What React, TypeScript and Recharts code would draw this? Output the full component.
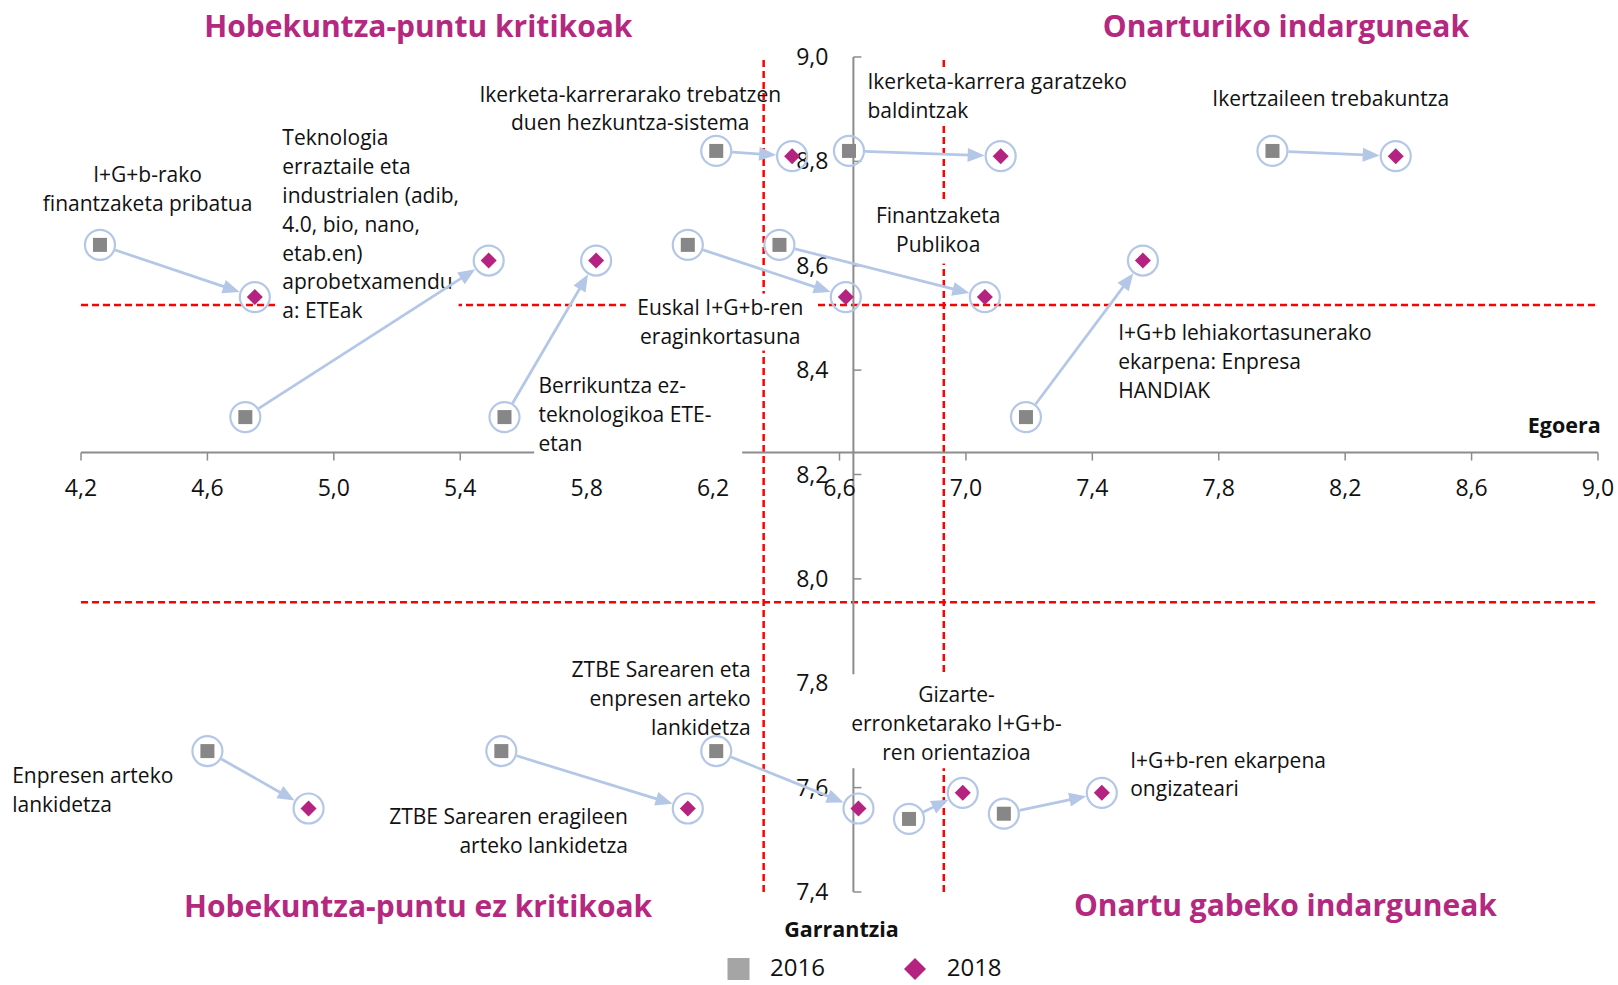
import React from "react";
import { Scatter, ScatterChart, XAxis, YAxis } from "recharts";

const W = 1618;
const H = 985;
const MARGIN = { top: 57, right: 20, bottom: 93, left: 81 };

const FONT = "'Open Sans', sans-serif";
const RING = "#b4c7e7";
const MAGENTA = "#b3237f";
const AXIS_GRAY = "#8c8c8c";

// item labels (line breaks as in the picture)
const ITEMS = [
  "I+G+b-rako\nfinantzaketa pribatua",
  "Teknologia\nerraztaile eta\nindustrialen (adib,\n4.0, bio, nano,\netab.en)\naprobetxamendu\na: ETEak",
  "Berrikuntza ez-\nteknologikoa ETE-\netan",
  "Ikerketa-karrerarako trebatzen\nduen hezkuntza-sistema",
  "Euskal I+G+b-ren\neraginkortasuna",
  "Finantzaketa\nPublikoa",
  "Ikerketa-karrera garatzeko\nbaldintzak",
  "Ikertzaileen trebakuntza",
  "I+G+b lehiakortasunerako\nekarpena: Enpresa\nHANDIAK",
  "Enpresen arteko\nlankidetza",
  "ZTBE Sarearen eragileen\narteko lankidetza",
  "ZTBE Sarearen eta\nenpresen arteko\nlankidetza",
  "Gizarte-\nerronketarako I+G+b-\nren orientazioa",
  "I+G+b-ren ekarpena\nongizateari"
];

const EGOERA_2016 = [4.26, 4.72, 5.54, 6.21, 6.12, 6.41, 6.63, 7.97, 7.19, 4.6, 5.53, 6.21, 6.82, 7.12];
const GARRANTZIA_2016 = [8.64, 8.31, 8.31, 8.82, 8.64, 8.64, 8.82, 8.82, 8.31, 7.67, 7.67, 7.67, 7.54, 7.55];
const EGOERA_2018 = [4.75, 5.49, 5.83, 6.45, 6.62, 7.06, 7.11, 8.36, 7.56, 4.92, 6.12, 6.66, 6.99, 7.43];
const GARRANTZIA_2018 = [8.54, 8.61, 8.61, 8.81, 8.54, 8.54, 8.81, 8.81, 8.61, 7.56, 7.56, 7.56, 7.59, 7.59];

const SERIES = ["2016", "2018"];
const QUADRANTS = [
  "Hobekuntza-puntu kritikoak",
  "Onarturiko indarguneak",
  "Hobekuntza-puntu ez kritikoak",
  "Onartu gabeko indarguneak"
];
const X_TITLE = "Egoera";
const Y_TITLE = "Garrantzia";

const X_DOMAIN: [number, number] = [4.2, 9.0];
const Y_DOMAIN: [number, number] = [7.4, 9.0];
const X_TICKS = [4.2, 4.6, 5.0, 5.4, 5.8, 6.2, 6.6, 7.0, 7.4, 7.8, 8.2, 8.6, 9.0];
const Y_TICKS = [7.4, 7.6, 7.8, 8.0, 8.2, 8.4, 8.6, 8.8, 9.0];
const X_AXIS_AT = 8.242; // garrantzia value where the Egoera axis crosses
const Y_AXIS_AT = 6.644; // egoera value where the Garrantzia axis crosses
const EGOERA_THRESHOLDS = [6.36, 6.93];
const GARRANTZIA_THRESHOLDS = [8.525, 7.955];

// label placement relative to the 2016 marker, px (box = white backing)
const LABEL_LAYOUT: { dx: number; dy: number; anchor: string; box?: number[] }[] = [
  { dx: 47.6, dy: -63, anchor: "middle" },
  { dx: 37, dy: -271.6, anchor: "start", box: [-4.7, -21, 181, 201] },
  { dx: 34, dy: -24, anchor: "start", box: [-4.3, -21.3, 208, 91] },
  { dx: -86, dy: -49.3, anchor: "middle" },
  { dx: 32.5, dy: 70, anchor: "middle", box: [-94.5, -21.3, 191, 57] },
  { dx: 158.8, dy: -21.6, anchor: "middle", box: [-67.8, -21.7, 135, 62] },
  { dx: 18.5, dy: -61.7, anchor: "start", box: [-5.8, -20.6, 268, 57.3] },
  { dx: 58.3, dy: -45, anchor: "middle" },
  { dx: 92.3, dy: -76.6, anchor: "start" },
  { dx: -195.2, dy: 32.3, anchor: "start" },
  { dx: 126.6, dy: 73.4, anchor: "end" },
  { dx: 34.5, dy: -74, anchor: "end" },
  { dx: 47.5, dy: -116.7, anchor: "middle", box: [-109.5, -28, 219, 94] },
  { dx: 126.4, dy: -46.2, anchor: "start" }
];

const RING_R = 15;
const LINE_H = 28.8;

const fmt = (v: number) => v.toFixed(1).replace(".", ",");

const points2016 = ITEMS.map((name, i) => ({ x: EGOERA_2016[i], y: GARRANTZIA_2016[i], name, layout: LABEL_LAYOUT[i] }));
const points2018 = ITEMS.map((name, i) => ({ x: EGOERA_2018[i], y: GARRANTZIA_2018[i], name }));
const arrowPoints = ITEMS.flatMap((_, i) => [
  { x: EGOERA_2016[i], y: GARRANTZIA_2016[i] },
  { x: EGOERA_2018[i], y: GARRANTZIA_2018[i] }
]);
const xAxisLine = X_DOMAIN.map((x) => ({ x, y: X_AXIS_AT }));
const yAxisLine = Y_DOMAIN.map((y) => ({ x: Y_AXIS_AT, y }));
const xTickPoints = X_TICKS.map((x) => ({ x, y: X_AXIS_AT }));
const yTickPoints = Y_TICKS.map((y) => ({ x: Y_AXIS_AT, y }));

const Empty = () => <g />;

const dashed = { stroke: "#ff0000", strokeWidth: 2.5, strokeDasharray: "7 4" };

function XTick(props: any) {
  const { cx, cy, payload } = props;
  return (
    <g>
      <line x1={cx} y1={cy} x2={cx} y2={cy + 8} stroke={AXIS_GRAY} strokeWidth={1.5} />
      <text x={cx} y={cy + 43} textAnchor="middle" fontFamily={FONT} fontSize={23} fill="#111">
        {fmt(payload.x)}
      </text>
    </g>
  );
}

function YTick(props: any) {
  const { cx, cy, payload } = props;
  return (
    <g>
      <line x1={cx} y1={cy} x2={cx + 8} y2={cy} stroke={AXIS_GRAY} strokeWidth={1.5} />
      <text x={cx - 25} y={cy + 8} textAnchor="end" fontFamily={FONT} fontSize={23} fill="#111">
        {fmt(payload.y)}
      </text>
    </g>
  );
}

function ItemLabel(props: any) {
  const { cx, cy, payload } = props;
  const L = payload.layout;
  const ax = cx + L.dx;
  const ay = cy + L.dy;
  const lines: string[] = payload.name.split("\n");
  return (
    <g>
      {L.box ? <rect x={ax + L.box[0]} y={ay + L.box[1]} width={L.box[2]} height={L.box[3]} fill="#fff" /> : null}
      {lines.map((t, k) => (
        <text key={k} x={ax} y={ay + k * LINE_H} textAnchor={L.anchor} fontFamily={FONT} fontSize={21} fill="#111">
          {t}
        </text>
      ))}
    </g>
  );
}

function Arrows(props: any) {
  const pts = props.points || [];
  const out: React.ReactNode[] = [];
  const headL = 17;
  const headW = 14;
  for (let i = 0; i + 1 < pts.length; i += 2) {
    const a = pts[i];
    const b = pts[i + 1];
    const dx = b.x - a.x;
    const dy = b.y - a.y;
    const len = Math.hypot(dx, dy) || 1;
    const ux = dx / len;
    const uy = dy / len;
    const r = RING_R + 1;
    const sx = a.x + ux * r;
    const sy = a.y + uy * r;
    const tx = b.x - ux * r;
    const ty = b.y - uy * r;
    const bx = tx - ux * headL;
    const by = ty - uy * headL;
    const nx = -uy;
    const ny = ux;
    out.push(
      <g key={i}>
        <line x1={sx} y1={sy} x2={bx + ux * 2} y2={by + uy * 2} stroke={RING} strokeWidth={2.75} />
        <polygon
          points={`${tx},${ty} ${bx + (nx * headW) / 2},${by + (ny * headW) / 2} ${bx - (nx * headW) / 2},${by - (ny * headW) / 2}`}
          fill={RING}
        />
      </g>
    );
  }
  return <g>{out}</g>;
}

function Square(props: any) {
  const { cx, cy } = props;
  return (
    <g>
      <circle cx={cx} cy={cy} r={RING_R} fill="none" stroke={RING} strokeWidth={2.2} />
      <rect x={cx - 7} y={cy - 7} width={14} height={14} fill="#878787" />
    </g>
  );
}

function Diamond(props: any) {
  const { cx, cy } = props;
  const d = 8;
  return (
    <g>
      <circle cx={cx} cy={cy} r={RING_R} fill="none" stroke={RING} strokeWidth={2.2} />
      <polygon points={`${cx},${cy - d} ${cx + d},${cy} ${cx},${cy + d} ${cx - d},${cy}`} fill={MAGENTA} />
    </g>
  );
}

export default function App() {
  return (
    <div style={{ position: "absolute", left: 0, top: 0, width: W, height: H, background: "#fff" }}>
      <ScatterChart width={W} height={H} margin={MARGIN}>
        <XAxis type="number" dataKey="x" domain={X_DOMAIN} ticks={X_TICKS} hide />
        <YAxis type="number" dataKey="y" domain={Y_DOMAIN} ticks={Y_TICKS} hide />

        {EGOERA_THRESHOLDS.map((v) => (
          <Scatter key={"ex" + v} data={Y_DOMAIN.map((y) => ({ x: v, y }))} shape={Empty} line={dashed} isAnimationActive={false} />
        ))}
        {GARRANTZIA_THRESHOLDS.map((v) => (
          <Scatter key={"gy" + v} data={X_DOMAIN.map((x) => ({ x, y: v }))} shape={Empty} line={dashed} isAnimationActive={false} />
        ))}

        <Scatter data={xAxisLine} shape={Empty} line={{ stroke: AXIS_GRAY, strokeWidth: 2 }} isAnimationActive={false} />
        <Scatter data={yAxisLine} shape={Empty} line={{ stroke: AXIS_GRAY, strokeWidth: 2 }} isAnimationActive={false} />
        <Scatter data={xTickPoints} shape={XTick} isAnimationActive={false} />
        <Scatter data={yTickPoints} shape={YTick} isAnimationActive={false} />

        <Scatter data={points2016} shape={ItemLabel} isAnimationActive={false} />
        <Scatter data={arrowPoints} shape={Empty} line={Arrows} isAnimationActive={false} />
        <Scatter name={SERIES[0]} data={points2016} shape={Square} isAnimationActive={false} />
        <Scatter name={SERIES[1]} data={points2018} shape={Diamond} isAnimationActive={false} />
      </ScatterChart>

      <svg width={W} height={H} style={{ position: "absolute", left: 0, top: 0, pointerEvents: "none" }}>
        <g fontFamily={FONT} fontWeight={700} fontSize={30} fill="#b4287f" textAnchor="middle">
          <text x={418.4} y={37.3}>{QUADRANTS[0]}</text>
          <text x={1285.9} y={36.7}>{QUADRANTS[1]}</text>
          <text x={418.1} y={916.6}>{QUADRANTS[2]}</text>
          <text x={1285.4} y={915.5}>{QUADRANTS[3]}</text>
        </g>
        <g fontFamily={FONT} fontWeight={700} fontSize={21.5} fill="#111">
          <text x={1600.7} y={433.3} textAnchor="end">{X_TITLE}</text>
          <text x={841.5} y={936.7} textAnchor="middle">{Y_TITLE}</text>
        </g>
        <g fontFamily={FONT} fontSize={24} fill="#111">
          <rect x={727.5} y={958} width={22} height={22} fill="#a5a5a5" />
          <text x={770} y={976}>{SERIES[0]}</text>
          <polygon points="915,958 926,969 915,980 904,969" fill={MAGENTA} />
          <text x={946.7} y={976}>{SERIES[1]}</text>
        </g>
      </svg>
    </div>
  );
}
